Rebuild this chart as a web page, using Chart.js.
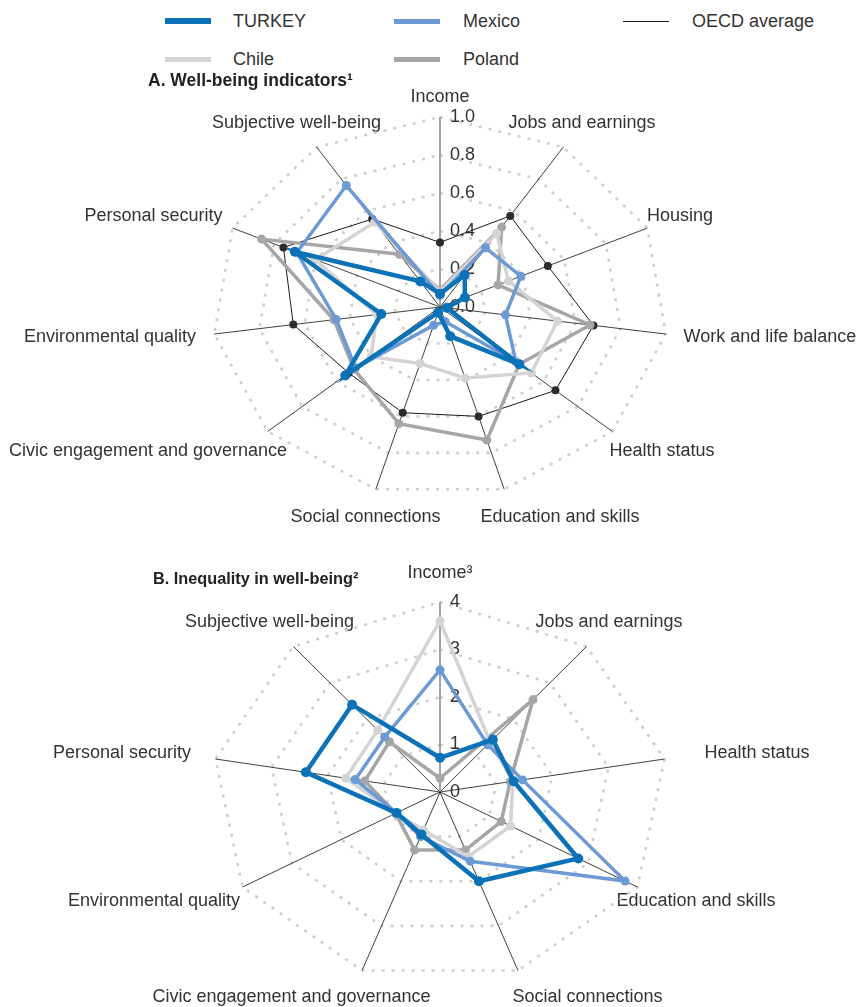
<!DOCTYPE html>
<html>
<head>
<meta charset="utf-8">
<script src="https://cdn.jsdelivr.net/npm/chart.js@4/dist/chart.umd.min.js"></script>
<style>
  html, body { margin: 0; padding: 0; background: #fff; }
  body { width: 859px; height: 1007px; position: relative; overflow: hidden;
         font-family: "Liberation Sans", Arial, Helvetica, sans-serif; color: #333; }
  .abs { position: absolute; white-space: nowrap; }
  .lg-text { font-size: 18px; line-height: 22px; }
  .swatch { position: absolute; width: 46px; }
  .title { font-weight: bold; line-height: 20px; color: #222; }
  canvas { position: absolute; left: 0; }
</style>
</head>
<body>

<!-- shared legend -->
<div class="swatch" style="left:165px; top:18px; height:6px; background:#0B72B8;"></div>
<div class="abs lg-text" style="left:233px; top:10px;">TURKEY</div>
<div class="swatch" style="left:394px; top:18.5px; height:5px; background:#6C9AD4;"></div>
<div class="abs lg-text" style="left:463px; top:10px;">Mexico</div>
<div class="swatch" style="left:623px; top:20.5px; height:1px; background:#1a1a1a;"></div>
<div class="abs lg-text" style="left:692px; top:10px;">OECD average</div>
<div class="swatch" style="left:165px; top:56.5px; height:5px; background:#D4D4D4;"></div>
<div class="abs lg-text" style="left:233px; top:48px;">Chile</div>
<div class="swatch" style="left:394px; top:56.5px; height:5px; background:#A6A6A6;"></div>
<div class="abs lg-text" style="left:463px; top:48px;">Poland</div>

<canvas id="chartA" width="859" height="470" style="top:70px;"></canvas>
<canvas id="chartB" width="859" height="467" style="top:540px;"></canvas>

<div class="abs title" style="left:148px; top:70px; font-size:17.5px;">A. Well-being indicators¹</div>
<div class="abs title" style="left:153px; top:568px; font-size:16.3px;">B. Inequality in well-being²</div>

<script>
// ---- Panel A: well-being indicators (0 = worst, 1 = best) ----
const labelsA = ['Income', 'Jobs and earnings', 'Housing', 'Work and life balance', 'Health status',
  'Education and skills', 'Social connections', 'Civic engagement and governance',
  'Environmental quality', 'Personal security', 'Subjective well-being'];
const ticksA = ['0.0', '0.2', '0.4', '0.6', '0.8', '1.0'];
const turkeyA = [0.07, 0.20, 0.12, 0.03, 0.46, 0.16, 0.03, 0.55, 0.26, 0.70, 0.16];
const mexicoA = [0.06, 0.37, 0.39, 0.29, 0.44, 0.08, 0.10, 0.49, 0.46, 0.69, 0.76];
const chileA  = [0.08, 0.46, 0.33, 0.52, 0.53, 0.39, 0.31, 0.40, 0.28, 0.60, 0.53];
const polandA = [0.09, 0.50, 0.28, 0.665, 0.46, 0.73, 0.64, 0.50, 0.47, 0.86, 0.33];
const oecdA   = [0.34, 0.57, 0.52, 0.68, 0.67, 0.60, 0.58, 0.53, 0.65, 0.755, 0.55];

// ---- Panel B: inequality in well-being ----
const labelsB = ['Income³', 'Jobs and earnings', 'Health status', 'Education and skills',
  'Social connections', 'Civic engagement and governance', 'Environmental quality',
  'Personal security', 'Subjective well-being'];
const ticksB = ['0', '1', '2', '3', '4'];
const turkeyB = [0.72, 1.44, 1.31, 2.80, 2.00, 0.95, 0.88, 2.39, 2.40];
const mexicoB = [2.57, 1.30, 1.47, 3.75, 1.55, 1.00, 0.88, 1.51, 1.51];
const chileB  = [3.60, 1.37, 1.30, 1.43, 1.45, 0.85, 0.90, 1.68, 1.70];
const polandB = [0.29, 2.54, 1.25, 1.24, 1.30, 1.30, 0.90, 1.34, 1.38];

const FONT = '"Liberation Sans", Arial, Helvetica, sans-serif';
const TEXT = '#333333';
const COLORS = { turkey: '#0B72B8', mexico: '#6C9AD4', chile: '#D4D4D4', poland: '#A6A6A6', oecd: '#1a1a1a' };

// Layout of each radar: centre, radius, horizontal stretch and the
// centre of every axis caption relative to the radar centre.
const layoutA = {
  cx: 440, cy: 237, radius: 190, stretch: 1.2,
  captions: [[0, -210], [142, -184], [240, -91], [330, 30], [222, 144], [120, 210],
             [-74.5, 210], [-292, 144], [-330, 30], [-286.5, -91], [-143.5, -184]]
};
const layoutB = {
  cx: 440, cy: 252, radius: 190, stretch: 1.2,
  captions: [[0, -219], [169, -170], [317, -39], [256, 109], [147.5, 205],
             [-148.5, 205], [-286, 109], [-318, -39], [-170.5, -170]]
};

// Pins the radial scale to a fixed centre/radius, stretches it horizontally
// and places the axis captions.
function placeRadar(scale, lay) {
  scale.xCenter = lay.cx;
  scale.yCenter = lay.cy;
  scale.drawingArea = lay.radius;
  const base = Object.getPrototypeOf(scale).getPointPosition;
  scale.getPointPosition = function (index, distance, extra) {
    const p = base.call(this, index, distance, extra || 0);
    return { x: this.xCenter + (p.x - this.xCenter) * lay.stretch, y: p.y, angle: p.angle };
  };
  const ctx = scale.ctx;
  const size = 18, lh = size * 1.2;
  ctx.save();
  ctx.font = size + 'px ' + FONT;
  scale._pointLabelItems = scale._pointLabels.map((text, i) => {
    const w = ctx.measureText(text).width;
    const x = lay.cx + lay.captions[i][0];
    const cy = lay.cy + lay.captions[i][1];
    return { visible: true, x, y: cy - lh / 2, textAlign: 'center',
             left: x - w / 2, right: x + w / 2, top: cy - lh / 2, bottom: cy + lh / 2 };
  });
  ctx.restore();
}

// Radial tick labels, drawn to the right of the vertical axis.
const tickText = {
  id: 'tickText',
  beforeDatasetsDraw(chart) {
    const s = chart.scales.r;
    const ctx = chart.ctx;
    ctx.save();
    ctx.font = '18px ' + FONT;
    ctx.fillStyle = TEXT;
    ctx.textAlign = 'left';
    ctx.textBaseline = 'middle';
    s.ticks.forEach(t => {
      const d = s.getDistanceFromCenterForValue(t.value);
      ctx.fillText(t.label, s.xCenter + 10, s.yCenter - d);
    });
    ctx.restore();
  }
};

function series(label, data, color, width, radius) {
  return {
    label, data,
    borderColor: color, backgroundColor: color,
    pointBackgroundColor: color, pointBorderColor: color,
    borderWidth: width, pointRadius: radius, pointBorderWidth: 0,
    pointHoverRadius: radius, fill: false, tension: 0, clip: false
  };
}

function radarOptions(max, step, tickLabels, lay) {
  return {
    responsive: false,
    animation: false,
    events: [],
    layout: { padding: 0 },
    plugins: { legend: { display: false }, title: { display: false }, tooltip: { enabled: false } },
    scales: {
      r: {
        min: 0, max: max,
        ticks: { stepSize: step, display: false, callback: (v, i) => tickLabels[i] },
        grid: { circular: false, color: '#CFCFCF', lineWidth: 2.6 },
        border: { dash: [3, 7] },
        angleLines: {
          color: c => c.index === 0 ? '#8C8C8C' : '#2a2a2a',
          lineWidth: c => c.index === 0 ? 1.6 : 0.9
        },
        pointLabels: { font: { size: 18, family: FONT }, color: TEXT, padding: 0 },
        afterFit: s => placeRadar(s, lay)
      }
    }
  };
}

new Chart(document.getElementById('chartA'), {
  type: 'radar',
  data: {
    labels: labelsA,
    datasets: [
      series('TURKEY', turkeyA, COLORS.turkey, 4.5, 5),
      series('Mexico', mexicoA, COLORS.mexico, 3.5, 4.5),
      series('Chile', chileA, COLORS.chile, 3.5, 4.5),
      series('Poland', polandA, COLORS.poland, 3.5, 4.5),
      Object.assign(series('OECD average', oecdA, COLORS.oecd, 1, 4), { pointBackgroundColor: '#2b2b2b' })
    ]
  },
  options: radarOptions(1, 0.2, ticksA, layoutA),
  plugins: [tickText]
});

new Chart(document.getElementById('chartB'), {
  type: 'radar',
  data: {
    labels: labelsB,
    datasets: [
      series('TURKEY', turkeyB, COLORS.turkey, 4.5, 5),
      series('Mexico', mexicoB, COLORS.mexico, 3.5, 4.5),
      series('Chile', chileB, COLORS.chile, 3.5, 4.5),
      series('Poland', polandB, COLORS.poland, 3.5, 4.5)
    ]
  },
  options: radarOptions(4, 1, ticksB, layoutB),
  plugins: [tickText]
});
</script>
</body>
</html>
